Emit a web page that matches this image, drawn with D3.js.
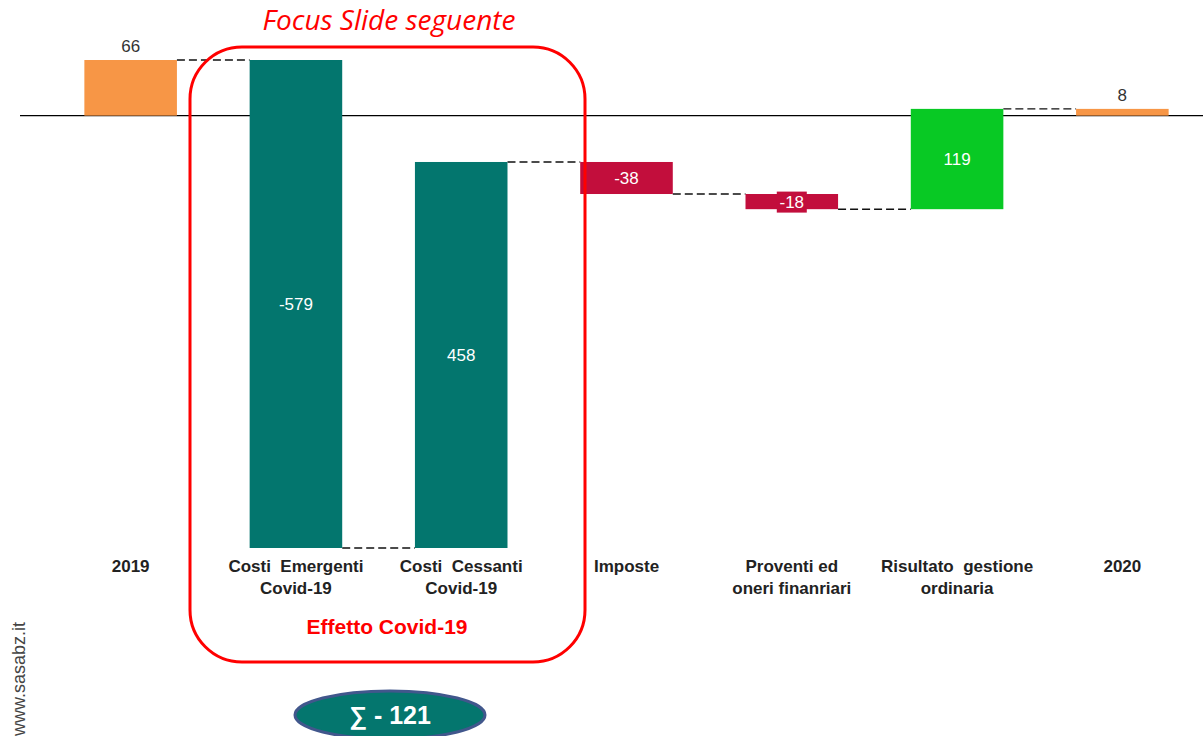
<!DOCTYPE html>
<html>
<head>
<meta charset="utf-8">
<script src="https://cdn.jsdelivr.net/npm/d3@7"></script>
<style>
  body { margin: 0; background: #fff; }
  svg { display: block; font-family: "Liberation Sans", Arial, sans-serif; }
</style>
</head>
<body>
<svg id="chart"></svg>
<script>
const categories = ['2019', 'Costi  Emergenti|Covid-19', 'Costi  Cessanti|Covid-19', 'Imposte',
  'Proventi ed|oneri finanriari', 'Risultato  gestione|ordinaria', '2020'];
const values = [66, -579, 458, -38, -18, 119, 8];
const kinds = ['total', 'covid', 'covid', 'neg', 'neg', 'pos', 'total'];
const sumLabel = '∑ - 121';

const width = 1203;
const height = 736;

const colors = {total: '#f79646', covid: '#03766e', neg: '#c20e3c', pos: '#08c924'};

// running totals for the waterfall
let run = 0;
const steps = values.map((v, i) => {
  let start, end;
  if (kinds[i] === 'total') { start = 0; end = v; run = v; }
  else { start = run; end = run + v; run = end; }
  return {cat: categories[i], value: v, kind: kinds[i], start, end};
});

const svg = d3.select('#chart')
  .attr('width', width)
  .attr('height', height);

const x = d3.scaleBand()
  .domain(categories)
  .range([48, 1205])
  .paddingInner(0.44)
  .paddingOuter(0.22);

const y = d3.scaleLinear()
  .domain([-513, 66])
  .range([548, 60]);

// zero line
svg.append('line')
  .attr('x1', 20).attr('x2', width)
  .attr('y1', y(0)).attr('y2', y(0))
  .attr('stroke', '#000').attr('stroke-width', 1.2);

// connectors
svg.selectAll('line.conn')
  .data(steps.slice(0, -1))
  .enter()
  .append('line')
  .attr('class', 'conn')
  .attr('x1', (d) => x(d.cat) + x.bandwidth())
  .attr('x2', (d, i) => x(steps[i + 1].cat))
  .attr('y1', (d) => y(d.end))
  .attr('y2', (d) => y(d.end))
  .attr('stroke', '#111')
  .attr('stroke-width', 1.4)
  .attr('stroke-dasharray', '8,4');

// bars
svg.selectAll('rect.bar')
  .data(steps)
  .enter()
  .append('rect')
  .attr('class', 'bar')
  .attr('x', (d) => x(d.cat))
  .attr('y', (d) => y(Math.max(d.start, d.end)))
  .attr('width', x.bandwidth())
  .attr('height', (d) => Math.abs(y(d.start) - y(d.end)))
  .attr('fill', (d) => colors[d.kind]);

// little label box behind small bars
const small = steps.filter((d) => d.kind !== 'total' && Math.abs(y(d.start) - y(d.end)) < 20);
svg.selectAll('rect.lblbox')
  .data(small)
  .enter()
  .append('rect')
  .attr('x', (d) => x(d.cat) + x.bandwidth() / 2 - 15)
  .attr('y', (d) => y((d.start + d.end) / 2) - 10)
  .attr('width', 30)
  .attr('height', 21)
  .attr('fill', (d) => colors[d.kind]);

// value labels
svg.selectAll('text.val')
  .data(steps)
  .enter()
  .append('text')
  .attr('class', 'val')
  .attr('x', (d) => x(d.cat) + x.bandwidth() / 2)
  .attr('y', (d) => d.kind === 'total' ? y(d.end) - 8 : y((d.start + d.end) / 2) + 6)
  .attr('text-anchor', 'middle')
  .attr('font-size', 17)
  .attr('fill', (d) => d.kind === 'total' ? '#333' : '#fff')
  .text((d) => d.value);

// category labels
const catText = svg.selectAll('text.cat')
  .data(categories)
  .enter()
  .append('text')
  .attr('class', 'cat')
  .attr('text-anchor', 'middle')
  .attr('font-size', 17)
  .attr('font-weight', 'bold')
  .attr('fill', '#222')
  .style('white-space', 'pre');
catText.selectAll('tspan')
  .data((d) => d.split('|').map((t) => ({t, c: d})))
  .enter()
  .append('tspan')
  .attr('x', (d) => x(d.c) + x.bandwidth() / 2)
  .attr('y', (d, i) => 572 + i * 22)
  .text((d) => d.t);

// covid focus box
svg.append('rect')
  .attr('x', 190).attr('y', 47)
  .attr('width', 395).attr('height', 615)
  .attr('rx', 52).attr('ry', 52)
  .attr('fill', 'none')
  .attr('stroke', '#ff0000')
  .attr('stroke-width', 3);

svg.append('text')
  .attr('x', 389).attr('y', 30)
  .attr('text-anchor', 'middle')
  .attr('font-family', '"Open Sans", sans-serif')
  .attr('font-style', 'italic')
  .attr('font-size', 28)
  .attr('fill', '#ff0000')
  .text('Focus Slide seguente');

svg.append('text')
  .attr('x', 387).attr('y', 634)
  .attr('text-anchor', 'middle')
  .attr('font-size', 21)
  .attr('font-weight', 'bold')
  .attr('fill', '#ff0000')
  .text('Effetto Covid-19');

// sum badge
svg.append('ellipse')
  .attr('cx', 390).attr('cy', 715)
  .attr('rx', 95).attr('ry', 24)
  .attr('fill', '#04766e')
  .attr('stroke', '#41578c')
  .attr('stroke-width', 3);

svg.append('text')
  .attr('x', 390).attr('y', 724)
  .attr('text-anchor', 'middle')
  .attr('font-size', 25)
  .attr('font-weight', 'bold')
  .attr('fill', '#fff')
  .text(sumLabel);

// watermark
svg.append('text')
  .attr('transform', 'translate(25, 736) rotate(-90)')
  .attr('font-size', 18)
  .attr('fill', '#444')
  .text('www.sasabz.it');
</script>
</body>
</html>
